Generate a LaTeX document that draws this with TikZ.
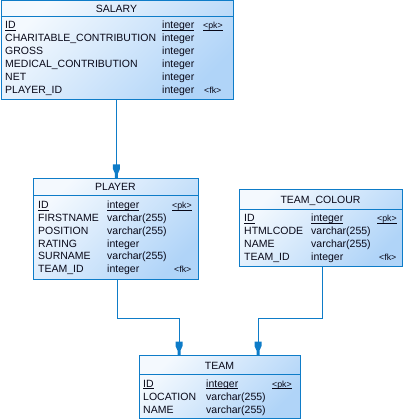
\documentclass[tikz,border=0pt]{standalone}
\usepackage{fontspec}
\setmainfont{Liberation Sans}
\usetikzlibrary{calc}

\definecolor{erline}{RGB}{14,124,200}
\definecolor{boxlight}{RGB}{244,249,254}
\definecolor{boxdark}{RGB}{176,212,248}
\definecolor{ertext}{RGB}{8,8,24}

% underline set a fixed distance below the baseline
\newcommand\keyline[1]{\setbox0\hbox{#1}\rlap{\rule[-1.8pt]{\wd0}{0.6pt}}\box0}

\tikzset{
  entity/.style={rectangle, draw=erline, line width=0.9pt, inner sep=0pt,
    top color=boxlight, bottom color=boxdark, shading angle=45, anchor=north west},
  sep/.style={draw=erline, line width=0.9pt},
  title/.style={font=\fontsize{10.5}{12}\selectfont, text=ertext, inner sep=0pt, anchor=base},
  col/.style={font=\fontsize{10.5}{12}\selectfont, text=ertext, inner sep=0pt, anchor=base west},
  keycol/.style={font=\fontsize{8.8}{10}\selectfont, text=ertext, inner sep=0pt, anchor=base west},
  conn/.style={draw=erline, line width=0.9pt},
  fkhead/.pic={
    \fill[erline] (-1.5,0) -- (-1.5,-4.5) -- (-3.5,-9) -- (-3.5,-13.5)
      -- (3.5,-13.5) -- (3.5,-9) -- (1.5,-4.5) -- (1.5,0) -- cycle;
  }
}

\begin{document}
\begin{tikzpicture}[x=1pt, y=-1pt]
\useasboundingbox (0,0) rectangle (404,419);

% ---------- SALARY ----------
\node[entity, minimum width=232pt, minimum height=98.5pt] (salary) at (0.5,0.5) {};
\draw[sep] ([yshift=-16pt]salary.north west) -- ([yshift=-16pt]salary.north east);
\node[title] (salary-t) at (116.5,12.2) {SALARY};
\node[col] (salary-n1) at (5,28.7) {\keyline{ID}};
\node[col] (salary-n2) at (5,41.7) {CHARITABLE\_CONTRIBUTION};
\node[col] (salary-n3) at (5,54.7) {GROSS};
\node[col] (salary-n4) at (5,67.7) {MEDICAL\_CONTRIBUTION};
\node[col] (salary-n5) at (5,80.7) {NET};
\node[col] (salary-n6) at (5,93.7) {PLAYER\_ID};
\node[col] (salary-d1) at (162,28.7) {\keyline{integer}};
\node[col] (salary-d2) at (162,41.7) {integer};
\node[col] (salary-d3) at (162,54.7) {integer};
\node[col] (salary-d4) at (162,67.7) {integer};
\node[col] (salary-d5) at (162,80.7) {integer};
\node[col] (salary-d6) at (162,93.7) {integer};
\node[keycol] (salary-k1) at (203,28.7) {\keyline{<pk>}};
\node[keycol] (salary-k6) at (204,93.7) {<fk>};

% ---------- PLAYER ----------
\node[entity, minimum width=165pt, minimum height=101pt] (player) at (33,178) {};
\draw[sep] ([yshift=-17pt]player.north west) -- ([yshift=-17pt]player.north east);
\node[title] (player-t) at (115.5,190.7) {PLAYER};
\node[col] (player-n1) at (38,208.7) {\keyline{ID}};
\node[col] (player-n2) at (38,221.5) {FIRSTNAME};
\node[col] (player-n3) at (38,234.3) {POSITION};
\node[col] (player-n4) at (38,247.1) {RATING};
\node[col] (player-n5) at (38,259.9) {SURNAME};
\node[col] (player-n6) at (38,272.7) {TEAM\_ID};
\node[col] (player-d1) at (107,208.7) {\keyline{integer}};
\node[col] (player-d2) at (107,221.5) {varchar(255)};
\node[col] (player-d3) at (107,234.3) {varchar(255)};
\node[col] (player-d4) at (107,247.1) {integer};
\node[col] (player-d5) at (107,259.9) {varchar(255)};
\node[col] (player-d6) at (107,272.7) {integer};
\node[keycol] (player-k1) at (172,208.7) {\keyline{<pk>}};
\node[keycol] (player-k6) at (174,272.7) {<fk>};

% ---------- TEAM_COLOUR ----------
\node[entity, minimum width=163pt, minimum height=77pt] (tcolour) at (239,189) {};
\draw[sep] ([yshift=-20pt]tcolour.north west) -- ([yshift=-20pt]tcolour.north east);
\node[title] (tcolour-t) at (320.5,203.7) {TEAM\_COLOUR};
\node[col] (tcolour-n1) at (244,222) {\keyline{ID}};
\node[col] (tcolour-n2) at (244,234.7) {HTMLCODE};
\node[col] (tcolour-n3) at (244,247.4) {NAME};
\node[col] (tcolour-n4) at (244,260.1) {TEAM\_ID};
\node[col] (tcolour-d1) at (311,222) {\keyline{integer}};
\node[col] (tcolour-d2) at (311,234.7) {varchar(255)};
\node[col] (tcolour-d3) at (311,247.4) {varchar(255)};
\node[col] (tcolour-d4) at (311,260.1) {integer};
\node[keycol] (tcolour-k1) at (377,222) {\keyline{<pk>}};
\node[keycol] (tcolour-k4) at (379,260.1) {<fk>};

% ---------- TEAM ----------
\node[entity, minimum width=161pt, minimum height=63pt] (team) at (139,355) {};
\draw[sep] ([yshift=-19pt]team.north west) -- ([yshift=-19pt]team.north east);
\node[title] (team-t) at (219.5,369.4) {TEAM};
\node[col] (team-n1) at (143,387) {\keyline{ID}};
\node[col] (team-n2) at (143,400.4) {LOCATION};
\node[col] (team-n3) at (143,413.7) {NAME};
\node[col] (team-d1) at (206,387) {\keyline{integer}};
\node[col] (team-d2) at (206,400.4) {varchar(255)};
\node[col] (team-d3) at (206,413.7) {varchar(255)};
\node[keycol] (team-k1) at (272,387) {\keyline{<pk>}};

% ---------- references ----------
\draw[conn] ([xshift=-0.5pt]salary.south) -- ([xshift=-0.5pt]salary.south |- player.north);
\pic at ([xshift=-0.5pt]salary.south |- player.north) {fkhead};

\draw[conn] ([xshift=1.5pt]player.south) -- ++(0,39) -| ([xshift=40pt]team.north west);
\pic at ([xshift=40pt]team.north west) {fkhead};

\draw[conn] ([xshift=1.5pt]tcolour.south) -- ++(0,52) -| ([xshift=119pt]team.north west);
\pic at ([xshift=119pt]team.north west) {fkhead};
\end{tikzpicture}
\end{document}
